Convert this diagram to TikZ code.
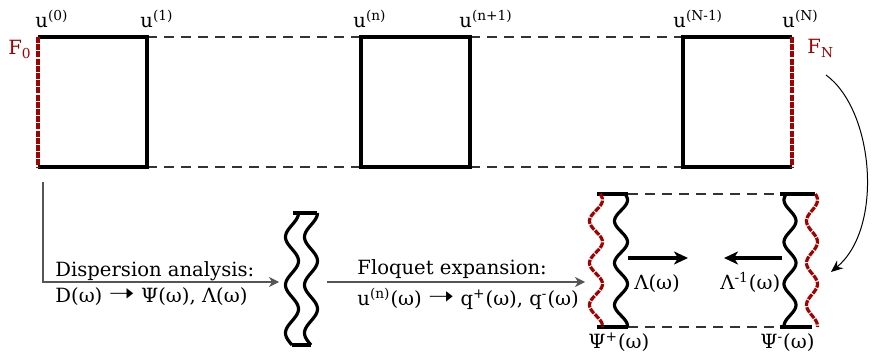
\documentclass[tikz,border=0pt]{standalone}
\usepackage{fontspec}
\setmainfont{DejaVu Serif}
\newfontfamily\arrowfont{DejaVu Sans}
\usepackage{tikz}
\usetikzlibrary{arrows.meta,calc}
\definecolor{flqred}{HTML}{A30000}
\definecolor{flqgrey}{HTML}{555555}
\definecolor{flqdash}{HTML}{333333}
\newcommand{\wavecurve}[7]{\draw[#1] plot[domain=0:#4,samples=80,smooth] ({#2+#7*cos((\x-#6)/#5*360)},{#3+\x});}
\newcommand{\yields}{\raisebox{0.1ex}{\scalebox{1.6}[1.25]{\arrowfont ➝}}}

\begin{document}
\begin{tikzpicture}[x=0.5pt,y=-0.5pt,
  cell/.style={draw=black,line width=1.6pt},
  bnd/.style={draw=flqred,line width=1.6pt,dash pattern=on 3pt off 0.6pt},
  gap/.style={draw=flqdash,line width=0.6pt,dash pattern=on 5pt off 3.5pt},
  lbl/.style={font=\fontsize{9.8}{12}\selectfont,inner sep=0pt},
  flow/.style={draw=flqgrey,line width=0.6pt,-{Stealth[length=5pt,width=5pt,inset=1.5pt]}},
  prop/.style={draw=black,line width=1.6pt,-{Stealth[length=7pt,width=6.5pt,inset=2pt]}}
]
\useasboundingbox (0,0) rectangle (873,363);
\coordinate (c0t) at (38,37);  \coordinate (c0b) at (38,167);
\coordinate (c1t) at (147,37); \coordinate (c1b) at (147,167);
\coordinate (cnt) at (361,37); \coordinate (cnb) at (361,167);
\coordinate (cmt) at (470,37); \coordinate (cmb) at (470,167);
\coordinate (cPt) at (683,37); \coordinate (cPb) at (683,167);
\coordinate (cNt) at (792,37); \coordinate (cNb) at (792,167);
\draw[gap] (c1t) -- (cnt) (c1b) -- (cnb) (cmt) -- (cPt) (cmb) -- (cPb);
\draw[cell] (c0t) -- (c1t) -- (c1b) -- (c0b);
\draw[cell] (cnt) rectangle (cmb);
\draw[cell] (cNt) -- (cPt) -- (cPb) -- (cNb);
\draw[bnd] (c0t) -- (c0b);
\draw[bnd] (cNt) -- (cNb);
\node[lbl,anchor=base west] (u0) at (35,28) {u\textsuperscript{(0)}};
\node[lbl,anchor=base west] (u1) at (140,28) {u\textsuperscript{(1)}};
\node[lbl,anchor=base west] (un) at (353,28) {u\textsuperscript{(n)}};
\node[lbl,anchor=base west] (un1) at (459,28) {u\textsuperscript{(n+1)}};
\node[lbl,anchor=base west] (uNm) at (673,28) {u\textsuperscript{(N-1)}};
\node[lbl,anchor=base west] (uN) at (782,28) {u\textsuperscript{(N)}};
\node[lbl,anchor=base west,text=flqred] (F0) at (8,55) {F\textsubscript{0}};
\node[lbl,anchor=base west,text=flqred] (FN) at (807,54) {F\textsubscript{N}};
\coordinate (dsp) at (43,182);
\coordinate (dspc) at (43,282);
\coordinate (w1l) at (279,282);
\coordinate (w1r) at (327,282);
\coordinate (w2l) at (585,282);
\draw[flow] (dsp) -- (dspc) -- (w1l);
\draw[flow] (w1r) -- (w2l);
\node[lbl,anchor=base west] (dtop) at (55,277) {Dispersion analysis:};
\node[lbl,anchor=base west] (dbot) at (55,303) {D(ω) \yields{} Ψ(ω), Λ(ω)};
\node[lbl,anchor=base west] (ftop) at (357,275) {Floquet expansion:};
\node[lbl,anchor=base west] (fbot) at (357,306) {u\textsuperscript{(n)}(ω) \yields{} q\textsuperscript{+}(ω), q\textsuperscript{-}(ω)};
\draw[cell] (293,213) -- (317,213) (292,345) -- (311,345);
\wavecurve{cell}{292}{213}{132}{48}{0}{6.5}
\wavecurve{cell}{311}{213}{132}{48}{0}{6.5}
\coordinate (pLt) at (597,194); \coordinate (pLb) at (597,327);
\coordinate (pRt) at (815,194); \coordinate (pRb) at (812,327);
\draw[gap] (628,194) -- (780,194) (628,327) -- (780,327);
\draw[cell] (pLt) -- (628,194) (pLb) -- (628,327);
\draw[cell] (780,194) -- (pRt) (780,327) -- (pRb);
\wavecurve{bnd}{596}{194}{133}{42}{6}{6.5}
\wavecurve{cell}{621}{194}{133}{42}{6}{6.5}
\wavecurve{cell}{790}{194}{133}{42}{27}{6}
\wavecurve{bnd}{812}{194}{133}{42}{6}{5.5}
\coordinate (lamA) at (628,258); \coordinate (lamB) at (688,258);
\coordinate (linA) at (782,258); \coordinate (linB) at (724,258);
\draw[prop] (lamA) -- (lamB);
\draw[prop] (linA) -- (linB);
\node[lbl,anchor=base west] (lam) at (634,290) {Λ(ω)};
\node[lbl,anchor=base west] (lami) at (720,290) {Λ\textsuperscript{-1}(ω)};
\node[lbl,anchor=base west] (psip) at (588,349) {Ψ\textsuperscript{+}(ω)};
\node[lbl,anchor=base west] (psim) at (760,349) {Ψ\textsuperscript{-}(ω)};
\coordinate (cvs) at (826,75);
\coordinate (cve) at (831,272);
\draw[line width=0.5pt,-{Stealth[length=6pt,width=5pt,inset=2pt]}] (cvs) .. controls (874,110) and (884,228) .. (cve);
\end{tikzpicture}
\end{document}
